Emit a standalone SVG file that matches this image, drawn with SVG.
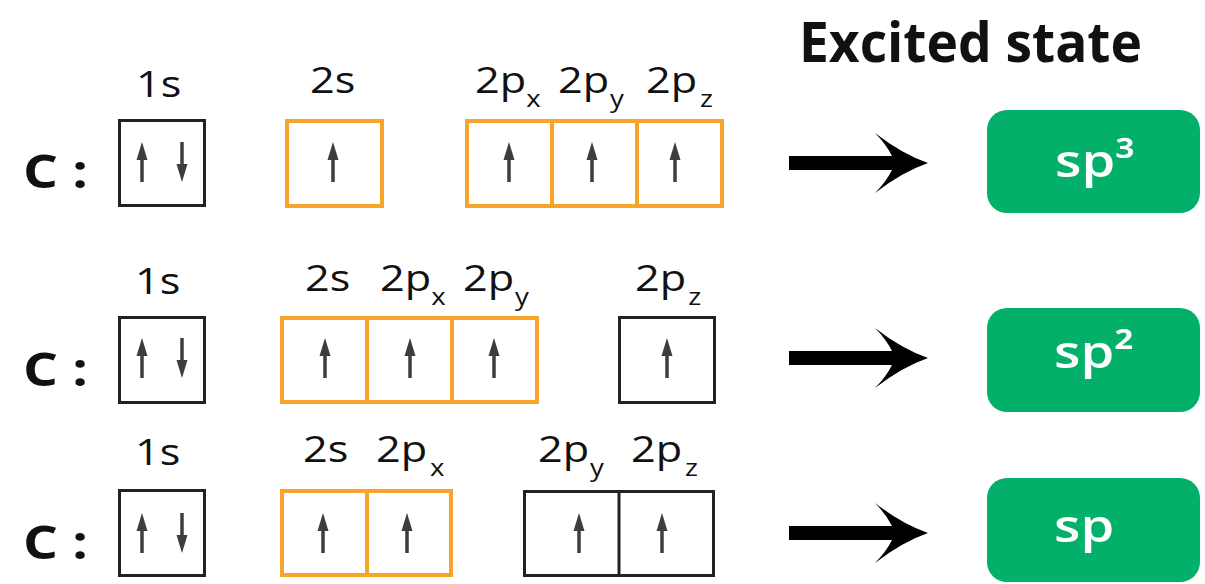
<svg xmlns="http://www.w3.org/2000/svg" xmlns:xlink="http://www.w3.org/1999/xlink" width="1205" height="584" viewBox="0 0 1205 584">
<defs>
<style>
.lbl{font-family:"Open Sans","Liberation Sans",sans-serif;font-size:36px;fill:#111}
.sub{font-size:23px}
.c{font-family:"Open Sans","Liberation Sans",sans-serif;font-size:47px;font-weight:700;fill:#111}
.title{font-family:"Open Sans","Liberation Sans",sans-serif;font-size:56px;font-weight:700;fill:#111}
.hyb{font-family:"Open Sans","Liberation Sans",sans-serif;font-size:46px;font-weight:600;fill:#fff}
.bk{fill:#fff;stroke:#222;stroke-width:3}
.bkl{stroke:#222;stroke-width:3}
.or{fill:#fff;stroke:#F6A42A;stroke-width:4}
.orl{stroke:#F6A42A;stroke-width:4}
.green{fill:#03B06A}
</style>
<g id="up"><line x1="0" y1="14" x2="0" y2="40" stroke="#3d3d3d" stroke-width="3.5"/><path d="M0,0 L5.5,18 L-5.5,18 Z" fill="#3d3d3d"/></g>
<g id="down"><line x1="0" y1="0" x2="0" y2="26" stroke="#3d3d3d" stroke-width="3.5"/><path d="M0,40 L5.5,22 L-5.5,22 Z" fill="#3d3d3d"/></g>
<path id="bigarrow" d="M789,-7 L892,-7 Q886,-19 875,-30 Q902,-9 928,0 Q902,9 875,30 Q886,19 892,7 L789,7 Z" fill="#000"/>
</defs>

<text class="title" x="799" y="62" textLength="343" lengthAdjust="spacingAndGlyphs">Excited state</text>

<!-- Row 1 -->
<g id="row1-label"><text class="c" transform="translate(23,188) scale(1.17,1)">C :</text></g>
<g id="row1-1s">
<text class="lbl" transform="translate(136,97) scale(1.2,1)">1s</text>
<rect class="bk" x="119.5" y="120.5" width="85" height="85"/>
<use xlink:href="#up" x="142" y="142"/><use xlink:href="#down" x="182" y="142"/>
</g>
<g id="row1-2s">
<text class="lbl" transform="translate(310,93) scale(1.2,1)">2s</text>
<rect class="or" x="287" y="121" width="95" height="85"/>
<use xlink:href="#up" x="333" y="142"/>
</g>
<g id="row1-2p">
<text class="lbl" transform="translate(475,93) scale(1.2,1)">2p<tspan class="sub" x="42.8" y="14">x</tspan></text>
<text class="lbl" transform="translate(558,93) scale(1.2,1)">2p<tspan class="sub" x="43.3" y="14">y</tspan></text>
<text class="lbl" transform="translate(646,93) scale(1.2,1)">2p<tspan class="sub" x="45" y="14">z</tspan></text>
<rect class="or" x="467" y="121" width="255" height="85"/>
<line class="orl" x1="552" y1="121" x2="552" y2="206"/>
<line class="orl" x1="637" y1="121" x2="637" y2="206"/>
<use xlink:href="#up" x="509" y="142"/><use xlink:href="#up" x="592" y="142"/><use xlink:href="#up" x="675" y="142"/>
</g>
<g id="row1-sp3">
<rect class="green" x="987" y="110" width="213" height="103" rx="20"/>
<text class="hyb" transform="translate(1055,177) scale(1.18,1)">sp³</text>
</g>

<!-- Row 2 -->
<g id="row2-label"><text class="c" transform="translate(23,386) scale(1.17,1)">C :</text></g>
<g id="row2-1s">
<text class="lbl" transform="translate(135,294) scale(1.2,1)">1s</text>
<rect class="bk" x="119.5" y="317.5" width="85" height="85"/>
<use xlink:href="#up" x="142" y="338"/><use xlink:href="#down" x="182" y="338"/>
</g>
<g id="row2-hyb">
<text class="lbl" transform="translate(305,291) scale(1.2,1)">2s</text>
<text class="lbl" transform="translate(380,291) scale(1.2,1)">2p<tspan class="sub" x="42.8" y="14">x</tspan></text>
<text class="lbl" transform="translate(463,291) scale(1.2,1)">2p<tspan class="sub" x="43.3" y="14">y</tspan></text>
<rect class="or" x="282" y="318" width="255" height="84"/>
<line class="orl" x1="367" y1="318" x2="367" y2="402"/>
<line class="orl" x1="452" y1="318" x2="452" y2="402"/>
<use xlink:href="#up" x="325" y="338"/><use xlink:href="#up" x="410" y="338"/><use xlink:href="#up" x="494" y="338"/>
</g>
<g id="row2-2pz">
<text class="lbl" transform="translate(635,291) scale(1.2,1)">2p<tspan class="sub" x="44.4" y="14">z</tspan></text>
<rect class="bk" x="619.5" y="317.5" width="95" height="85"/>
<use xlink:href="#up" x="667" y="338"/>
</g>
<g id="row2-sp2">
<rect class="green" x="987" y="308" width="213" height="104" rx="20"/>
<text class="hyb" transform="translate(1054,368) scale(1.18,1)">sp²</text>
</g>

<!-- Row 3 -->
<g id="row3-label"><text class="c" transform="translate(23,559) scale(1.17,1)">C :</text></g>
<g id="row3-1s">
<text class="lbl" transform="translate(135,465) scale(1.2,1)">1s</text>
<rect class="bk" x="119.5" y="490.5" width="85" height="85"/>
<use xlink:href="#up" x="142" y="513"/><use xlink:href="#down" x="182" y="513"/>
</g>
<g id="row3-hyb">
<text class="lbl" transform="translate(303,462) scale(1.2,1)">2s</text>
<text class="lbl" transform="translate(376,462) scale(1.2,1)">2p<tspan class="sub" x="45" y="14">x</tspan></text>
<rect class="or" x="282" y="491" width="169" height="84"/>
<line class="orl" x1="367" y1="491" x2="367" y2="575"/>
<use xlink:href="#up" x="323" y="513"/><use xlink:href="#up" x="407" y="513"/>
</g>
<g id="row3-2p">
<text class="lbl" transform="translate(538,462) scale(1.2,1)">2p<tspan class="sub" x="43.3" y="14">y</tspan></text>
<text class="lbl" transform="translate(631,462) scale(1.2,1)">2p<tspan class="sub" x="45" y="14">z</tspan></text>
<rect class="bk" x="524.5" y="491.5" width="189" height="84"/>
<line class="bkl" x1="619" y1="491.5" x2="619" y2="575.5"/>
<use xlink:href="#up" x="579" y="513"/><use xlink:href="#up" x="662" y="513"/>
</g>
<g id="row3-sp">
<rect class="green" x="987" y="478" width="213" height="104" rx="20"/>
<text class="hyb" transform="translate(1054,542) scale(1.18,1)">sp</text>
</g>

<g id="connectors">
<use xlink:href="#bigarrow" x="0" y="163"/>
<use xlink:href="#bigarrow" x="0" y="358"/>
<use xlink:href="#bigarrow" x="0" y="533"/>
</g>
</svg>
